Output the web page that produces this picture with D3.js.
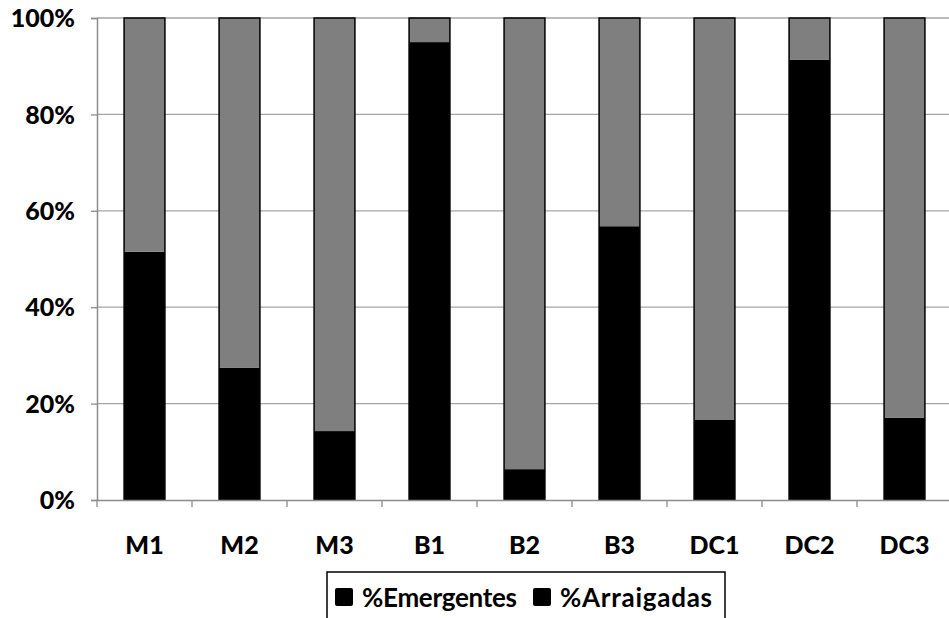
<!DOCTYPE html>
<html>
<head>
<meta charset="utf-8">
<script src="https://cdn.jsdelivr.net/npm/d3@7"></script>
<style>
  body { margin: 0; background: #fff; }
  svg { display: block; }
</style>
</head>
<body>
<svg id="chart"></svg>
<script>
// values (share of each bar, %)
var categories = ["M1", "M2", "M3", "B1", "B2", "B3", "DC1", "DC2", "DC3"];
var emergentes = [51.5, 27.4, 14.3, 95.0, 6.4, 56.8, 16.6, 91.3, 17.1];
var arraigadas = emergentes.map(function(v){ return 100 - v; });
var seriesNames = ["%Emergentes", "%Arraigadas"];
var yTicks = [0, 20, 40, 60, 80, 100];

var W = 949, H = 618;
var margin = {top: 18, right: -3, bottom: 118, left: 97};
var width = W - margin.left - margin.right,
    height = H - margin.top - margin.bottom;

var svg0 = d3.select("#chart").attr("width", W).attr("height", H);
var svg = svg0.append("g").attr("transform", `translate(${margin.left},${margin.top})`);

var rows = categories.map(function(c, i){
    return {cat: c, "%Emergentes": emergentes[i], "%Arraigadas": arraigadas[i]};
});
var stacked = d3.stack().keys(seriesNames)(rows);

var x = d3.scaleBand().domain(categories).range([0, width]).paddingInner(0.57).paddingOuter(0.285);
var xTicksScale = d3.scaleBand().domain(categories).range([0, width]);
var y = d3.scaleLinear().domain([0, 100]).range([height, 0]);

var color = d3.scaleOrdinal().domain(seriesNames).range(["#000000", "#7f7f7f"]);
var legendColor = ["#000000", "#000000"];
var font = "Lato, 'Open Sans', sans-serif";

// gridlines
svg.selectAll(".grid").data(yTicks.filter(function(d){ return d > 0; })).join("line")
    .attr("class", "grid")
    .attr("x1", 0).attr("x2", width)
    .attr("y1", function(d){ return y(d); }).attr("y2", function(d){ return y(d); })
    .attr("stroke", "#a6a6a6").attr("stroke-width", 1.3);

// bars
svg.selectAll(".series").data(stacked).join("g")
    .attr("class", "series")
    .attr("fill", function(d){ return color(d.key); })
    .selectAll("rect").data(function(d){ return d; }).join("rect")
    .attr("x", function(d){ return x(d.data.cat); })
    .attr("width", x.bandwidth())
    .attr("y", function(d){ return y(d[1]); })
    .attr("height", function(d){ return y(d[0]) - y(d[1]); });

// bar outlines
svg.selectAll(".outline").data(categories).join("rect")
    .attr("class", "outline")
    .attr("x", function(d){ return x(d); })
    .attr("width", x.bandwidth())
    .attr("y", y(100)).attr("height", y(0) - y(100))
    .attr("fill", "none").attr("stroke", "#000").attr("stroke-width", 1.5);

// y axis
var yAxis = svg.append("g")
    .call(d3.axisLeft(y).tickValues(yTicks).tickFormat(function(d){ return d + "%"; }).tickSize(6).tickPadding(16));
yAxis.select(".domain").attr("stroke", "#8c8c8c").attr("stroke-width", 1.5);
yAxis.selectAll(".tick line").attr("stroke", "#8c8c8c").attr("stroke-width", 1.3);
yAxis.selectAll("text").attr("font-family", font)
    .attr("font-weight", 900).attr("font-size", 25).attr("fill", "#000").attr("dy", "0.35em");

// x axis
var xAxis = svg.append("g").attr("transform", `translate(0,${height})`)
    .call(d3.axisBottom(x).tickSize(0).tickPadding(36));
xAxis.select(".domain").attr("stroke", "#8c8c8c").attr("stroke-width", 1.5);
xAxis.selectAll("text").attr("font-family", font)
    .attr("font-weight", 900).attr("font-size", 25).attr("fill", "#000");
svg.append("g").selectAll("line").data(categories.concat(["end"])).join("line")
    .attr("x1", function(d, i){ return i * xTicksScale.step(); })
    .attr("x2", function(d, i){ return i * xTicksScale.step(); })
    .attr("y1", height).attr("y2", height + 7)
    .attr("stroke", "#8c8c8c").attr("stroke-width", 1.3);

// legend
var legend = svg0.append("g").attr("transform", "translate(327,572)");
legend.append("rect").attr("x", 0).attr("y", 0).attr("width", 398).attr("height", 52)
    .attr("fill", "#fff").attr("stroke", "#000").attr("stroke-width", 1.5);
var items = [{name: seriesNames[0], x: 8, tx: 35, w: 155}, {name: seriesNames[1], x: 206, tx: 233, w: 152}];
items.forEach(function(it, i){
    legend.append("rect").attr("x", it.x).attr("y", 16).attr("width", 18).attr("height", 18)
        .attr("rx", 2)
        .attr("fill", legendColor[i]);
    legend.append("text").attr("x", it.tx).attr("y", 35)
        .attr("font-family", font).attr("font-size", 26)
        .attr("font-weight", "bold").attr("fill", "#000")
        .attr("textLength", it.w).attr("lengthAdjust", "spacing")
        .text(it.name);
});
</script>
</body>
</html>
